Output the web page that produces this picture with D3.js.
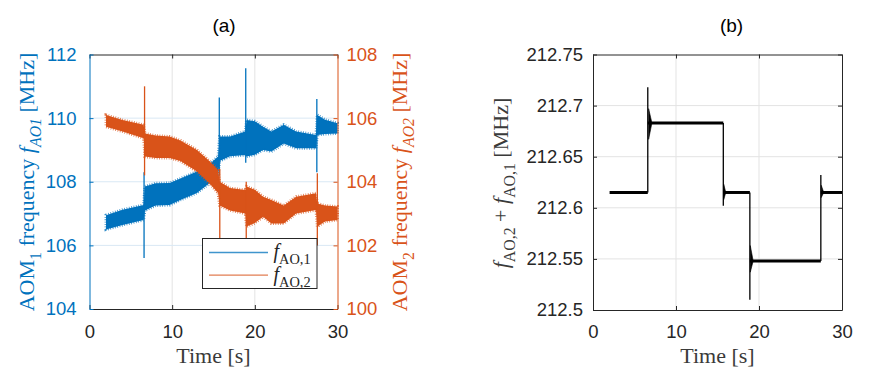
<!DOCTYPE html>
<html>
<head>
<meta charset="utf-8">
<script src="https://cdn.jsdelivr.net/npm/d3@7"></script>
<style>
body { margin: 0; background: #fff; }
text { font-family: "Liberation Sans", Arial, sans-serif; }
.lbl { font-family: "Liberation Serif", "Times New Roman", serif; }
</style>
</head>
<body>
<div class="chart"></div>
<script>
// ---- panel (a) data: envelope (low / high) of the noisy traces
var tA   = [2, 4, 6.55, 6.7, 8, 9.7, 11, 13, 14.5, 15.55, 15.75, 17, 18.85, 19, 20, 21, 22, 23.5, 25, 27.4, 27.55, 28.5, 30];
var f1Lo = [106.50, 106.64, 106.80, 107.10, 107.25, 107.27, 107.43, 107.65, 107.95, 108.21, 108.65, 108.80, 108.84, 108.79, 108.85, 109.00, 108.95, 109.20, 109.05, 109.05, 109.47, 109.50, 109.52];
var f1Hi = [106.95, 107.12, 107.27, 107.85, 107.95, 107.96, 108.10, 108.32, 108.55, 108.79, 109.42, 109.42, 109.58, 109.94, 109.90, 109.73, 109.58, 109.79, 109.58, 109.47, 110.10, 109.95, 109.84];
var f2Lo = [105.73, 105.58, 105.37, 104.79, 104.75, 104.75, 104.65, 104.32, 103.95, 103.65, 103.25, 103.10, 103.00, 102.59, 102.70, 102.90, 102.69, 102.69, 103.00, 103.11, 102.59, 102.75, 102.80];
var f2Hi = [106.10, 105.94, 105.79, 105.52, 105.45, 105.42, 105.30, 105.00, 104.65, 104.37, 104.00, 103.80, 103.74, 103.85, 103.75, 103.53, 103.43, 103.25, 103.53, 103.64, 103.32, 103.25, 103.22];

// spikes at the switching instants
var spikeT   = [6.6, 15.7, 18.9, 27.5];
var f1SpkLo  = [105.6, 108.2, 108.6, 108.3];
var f1SpkHi  = [108.3, 110.65, 111.57, 110.6];
var f2SpkLo  = [104.2, 101.8, 101.8, 102.0];
var f2SpkHi  = [107.0, 104.4, 104.0, 104.27];

// ---- panel (b) data: sum frequency, step levels
var levelStart = [2, 6.6, 15.7, 18.9, 27.45];
var levelEnd   = [6.6, 15.7, 18.9, 27.45, 30];
var levelVal   = [212.615, 212.683, 212.615, 212.548, 212.615];
var stepT  = [6.6, 15.7, 18.9, 27.45];
var stepLo = [212.615, 212.602, 212.51, 212.548];
var stepHi = [212.718, 212.683, 212.615, 212.632];
var ringT0 = [6.7, 15.75, 18.95, 27.5];
var ringT1 = [7.1, 16.0, 19.3, 27.8];
var ringLo = [212.667, 212.608, 212.537, 212.610];
var ringHi = [212.697, 212.623, 212.563, 212.622];

// ticks
var xTicks  = [0, 10, 20, 30];
var y1Ticks = [104, 106, 108, 110, 112];
var y2Ticks = [100, 102, 104, 106, 108];
var ybTicks = [212.5, 212.55, 212.6, 212.65, 212.7, 212.75];

var blue = "#0072BD", orange = "#D95319", dark = "#262626";
var svgWidth = 886, svgHeight = 390;

var svg = d3.select(".chart").append("svg")
  .attr("width", svgWidth)
  .attr("height", svgHeight);

// rich text with italic / subscript parts
function richText(sel, parts, size) {
  var shift = 0;
  parts.forEach(function(p) {
    var ts = sel.append("tspan").text(p.t);
    var want = p.s ? size * 0.3 : 0;
    ts.attr("dy", want - shift);
    shift = want;
    if (p.i) ts.style("font-style", "italic");
    if (p.s) ts.style("font-size", (size * 0.72) + "px");
  });
}

// ================= panel (a) =================
var xA  = d3.scaleLinear().domain([0, 30]).range([89.5, 337.5]);
var yA1 = d3.scaleLinear().domain([104, 112]).range([309, 54.5]);
var yA2 = d3.scaleLinear().domain([100, 108]).range([309, 54.5]);

var gA = svg.append("g");

// grid
gA.selectAll(".gx").data([10, 20]).enter().append("line")
  .attr("x1", d => xA(d)).attr("x2", d => xA(d))
  .attr("y1", yA1.range()[0]).attr("y2", yA1.range()[1])
  .attr("stroke", "#e3e3e3").attr("stroke-width", 1);
gA.selectAll(".gy").data([106, 108, 110]).enter().append("line")
  .attr("x1", xA.range()[0]).attr("x2", xA.range()[1])
  .attr("y1", d => yA1(d)).attr("y2", d => yA1(d))
  .attr("stroke", "#d9e8f4").attr("stroke-width", 1);

var rowsA = tA.map(function(t, i) {
  return {t: t, lo1: f1Lo[i], hi1: f1Hi[i], lo2: f2Lo[i], hi2: f2Hi[i]};
});

// noisy band: filled envelope with a ragged (dashed) outline
function band(g, area, color) {
  g.append("path").datum(rowsA).attr("d", area).attr("fill", color);
  g.append("path").datum(rowsA).attr("d", area)
    .attr("fill", "none").attr("stroke", color).attr("stroke-width", 3)
    .attr("stroke-dasharray", "0.8 1.6").attr("opacity", 0.8);
}

// blue trace
band(gA, d3.area().x(d => xA(d.t)).y0(d => yA1(d.lo1)).y1(d => yA1(d.hi1)), blue);
gA.selectAll(".s1").data(spikeT).enter().append("line")
  .attr("x1", d => xA(d)).attr("x2", d => xA(d))
  .attr("y1", (d, i) => yA1(f1SpkLo[i])).attr("y2", (d, i) => yA1(f1SpkHi[i]))
  .attr("stroke", blue).attr("stroke-width", 1.3);

// orange trace
band(gA, d3.area().x(d => xA(d.t)).y0(d => yA2(d.lo2)).y1(d => yA2(d.hi2)), orange);
gA.selectAll(".s2").data(spikeT).enter().append("line")
  .attr("x1", d => xA(d) + 0.5).attr("x2", d => xA(d) + 0.5)
  .attr("y1", (d, i) => yA2(f2SpkLo[i])).attr("y2", (d, i) => yA2(f2SpkHi[i]))
  .attr("stroke", orange).attr("stroke-width", 1.3);

// axes
function styleAxis(g, color) {
  g.select(".domain").attr("stroke", color).attr("stroke-width", 1);
  g.selectAll(".tick line").attr("stroke", color);
  g.selectAll(".tick text").attr("fill", color)
    .style("font-size", "18.5px").style("font-family", "Liberation Sans, Arial, sans-serif");
}
var axA_b = gA.append("g").attr("transform", "translate(0," + yA1.range()[0] + ")")
  .call(d3.axisBottom(xA).tickValues(xTicks).tickSize(-4).tickSizeOuter(0).tickPadding(16));
styleAxis(axA_b, dark);
var axA_t = gA.append("g").attr("transform", "translate(0," + yA1.range()[1] + ")")
  .call(d3.axisTop(xA).tickValues(xTicks).tickSize(-4).tickSizeOuter(0).tickFormat(""));
styleAxis(axA_t, dark);
var axA_l = gA.append("g").attr("transform", "translate(" + xA.range()[0] + ",0)")
  .call(d3.axisLeft(yA1).tickValues(y1Ticks).tickSize(-4).tickSizeOuter(0).tickPadding(13));
styleAxis(axA_l, blue);
var axA_r = gA.append("g").attr("transform", "translate(" + xA.range()[1] + ",0)")
  .call(d3.axisRight(yA2).tickValues(y2Ticks).tickSize(-4).tickSizeOuter(0).tickPadding(9));
styleAxis(axA_r, orange);

// legend
var leg = gA.append("g").attr("transform", "translate(202.5,238.5)");
leg.append("rect").attr("width", 114.5).attr("height", 50)
  .attr("fill", "#fff").attr("stroke", dark).attr("stroke-width", 1);
var legColors = [blue, orange];
var legNames = ["AO,1", "AO,2"];
legColors.forEach(function(c, i) {
  leg.append("line").attr("x1", 6.5).attr("x2", 65.5)
    .attr("y1", 14 + i * 22.6).attr("y2", 14 + i * 22.6)
    .attr("stroke", c).attr("stroke-width", 1.4).attr("opacity", 0.75);
  var tx = leg.append("text").attr("class", "lbl")
    .attr("x", 71).attr("y", 19.5 + i * 22.6)
    .style("font-size", "20px").attr("fill", dark);
  richText(tx, [{t: "f", i: true}, {t: legNames[i], s: true}], 20);
});

// labels
var labelGray = "#3a3a3a";
svg.append("text").attr("x", 224).attr("y", 32).attr("text-anchor", "middle")
  .style("font-size", "19px").attr("fill", "#000").text("(a)");
svg.append("text").attr("class", "lbl").attr("x", 213.5).attr("y", 363)
  .attr("text-anchor", "middle").style("font-size", "22px").attr("fill", labelGray).text("Time [s]");
var yl1 = svg.append("text").attr("class", "lbl")
  .attr("transform", "translate(34,182) rotate(-90)")
  .attr("text-anchor", "middle").style("font-size", "22px").attr("fill", blue);
richText(yl1, [{t: "AOM"}, {t: "1", s: true}, {t: " frequency "}, {t: "f", i: true},
  {t: "AO1", s: true, i: true}, {t: " [MHz]"}], 22);
var yl2 = svg.append("text").attr("class", "lbl")
  .attr("transform", "translate(407,182) rotate(-90)")
  .attr("text-anchor", "middle").style("font-size", "22px").attr("fill", orange);
richText(yl2, [{t: "AOM"}, {t: "2", s: true}, {t: " frequency "}, {t: "f", i: true},
  {t: "AO2", s: true, i: true}, {t: " [MHz]"}], 22);

// ================= panel (b) =================
var xB = d3.scaleLinear().domain([0, 30]).range([593, 842]);
var yB = d3.scaleLinear().domain([212.5, 212.75]).range([310, 54.5]);
var gB = svg.append("g");

gB.selectAll(".gx").data([10, 20]).enter().append("line")
  .attr("x1", d => xB(d)).attr("x2", d => xB(d))
  .attr("y1", yB.range()[0]).attr("y2", yB.range()[1])
  .attr("stroke", "#e3e3e3").attr("stroke-width", 1);
gB.selectAll(".gy").data([212.55, 212.6, 212.65, 212.7]).enter().append("line")
  .attr("x1", xB.range()[0]).attr("x2", xB.range()[1])
  .attr("y1", d => yB(d)).attr("y2", d => yB(d))
  .attr("stroke", "#e3e3e3").attr("stroke-width", 1);

// step levels
gB.selectAll(".lev").data(levelVal).enter().append("line")
  .attr("x1", (d, i) => xB(levelStart[i])).attr("x2", (d, i) => xB(levelEnd[i]))
  .attr("y1", d => yB(d)).attr("y2", d => yB(d))
  .attr("stroke", "#000").attr("stroke-width", 3);
gB.selectAll(".stp").data(stepT).enter().append("line")
  .attr("x1", d => xB(d)).attr("x2", d => xB(d))
  .attr("y1", (d, i) => yB(stepLo[i])).attr("y2", (d, i) => yB(stepHi[i]))
  .attr("stroke", "#000").attr("stroke-width", 1.3);
// ringing after each step
stepT.forEach(function(t, i) {
  var lv = levelVal[i + 1];
  var pts = [{t: ringT0[i], lo: ringLo[i], hi: ringHi[i]}, {t: ringT1[i], lo: lv, hi: lv}];
  gB.append("path").datum(pts)
    .attr("d", d3.area().x(d => xB(d.t)).y0(d => yB(d.lo)).y1(d => yB(d.hi)))
    .attr("fill", "#000").attr("stroke", "#000").attr("stroke-width", 0.6);
});

var axB_b = gB.append("g").attr("transform", "translate(0," + yB.range()[0] + ")")
  .call(d3.axisBottom(xB).tickValues(xTicks).tickSize(-4).tickSizeOuter(0).tickPadding(15));
styleAxis(axB_b, dark);
var axB_t = gB.append("g").attr("transform", "translate(0," + yB.range()[1] + ")")
  .call(d3.axisTop(xB).tickValues(xTicks).tickSize(-4).tickSizeOuter(0).tickFormat(""));
styleAxis(axB_t, dark);
var axB_l = gB.append("g").attr("transform", "translate(" + xB.range()[0] + ",0)")
  .call(d3.axisLeft(yB).tickValues(ybTicks).tickSize(-4).tickSizeOuter(0).tickPadding(10)
    .tickFormat(d3.format("")));
styleAxis(axB_l, dark);
var axB_r = gB.append("g").attr("transform", "translate(" + xB.range()[1] + ",0)")
  .call(d3.axisRight(yB).tickValues(ybTicks).tickSize(-4).tickSizeOuter(0).tickFormat(""));
styleAxis(axB_r, dark);

svg.append("text").attr("x", 731.5).attr("y", 32).attr("text-anchor", "middle")
  .style("font-size", "19px").attr("fill", "#000").text("(b)");
svg.append("text").attr("class", "lbl").attr("x", 717.5).attr("y", 363)
  .attr("text-anchor", "middle").style("font-size", "22px").attr("fill", labelGray).text("Time [s]");
var ylb = svg.append("text").attr("class", "lbl")
  .attr("transform", "translate(508,183) rotate(-90)")
  .attr("text-anchor", "middle").style("font-size", "22px").attr("fill", labelGray);
richText(ylb, [{t: "f", i: true}, {t: "AO,2", s: true}, {t: " + "}, {t: "f", i: true},
  {t: "AO,1", s: true}, {t: " [MHz]"}], 22);
</script>
</body>
</html>
